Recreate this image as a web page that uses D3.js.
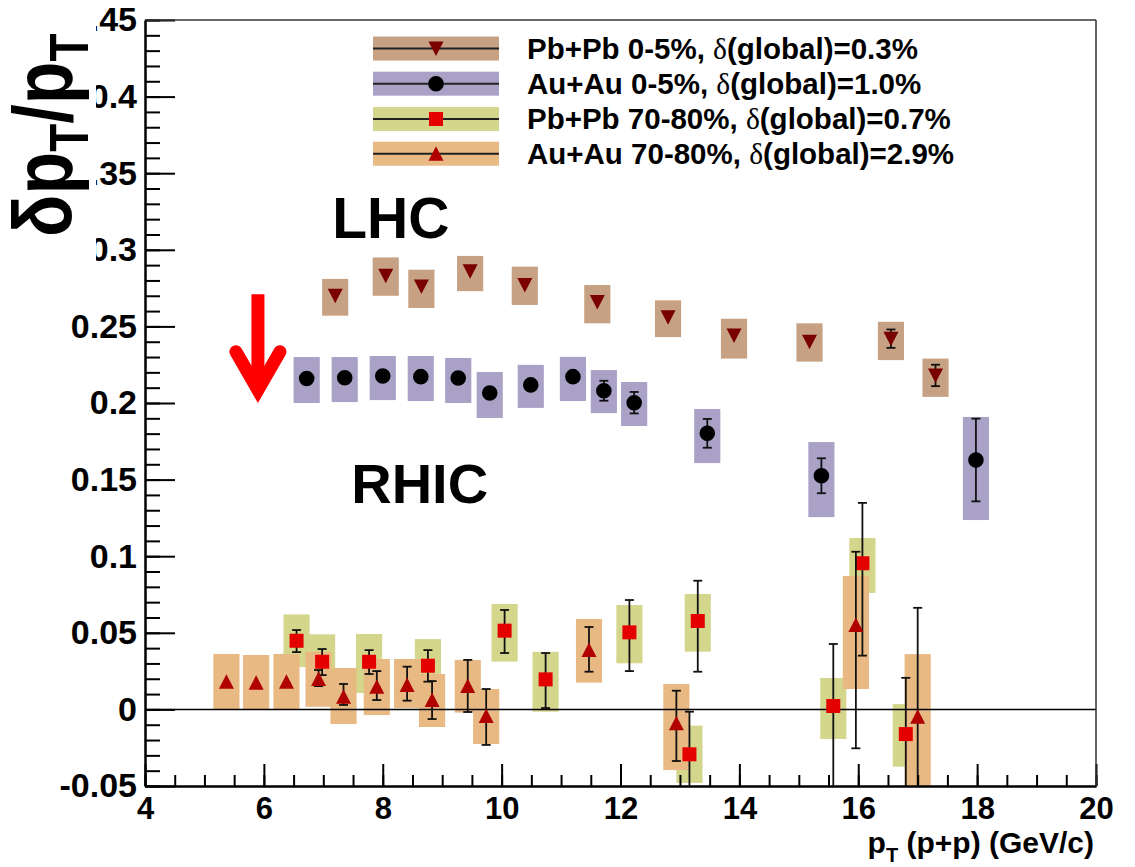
<!DOCTYPE html>
<html lang="en">
<head>
<meta charset="UTF-8">
<title>dpT/pT vs pT (p+p)</title>
<script src="https://d3js.org/d3.v7.min.js"></script>
<style>
    body { margin: 0; background: #fff; }
    text { font-family: 'Liberation Sans', Arial, Helvetica, sans-serif; font-weight: bold; fill: #000; }
    .serif { font-family: 'Liberation Serif', 'Times New Roman', serif; font-weight: normal; }
</style>
</head>
<body>
<svg id="chart" width="1135" height="867"></svg>
<script>
// ---- data ----
// Pb+Pb 0-5% (LHC)
const pbCentPt    = [7.20, 8.05, 8.65, 9.47, 10.39, 11.61, 12.80, 13.91, 15.18, 16.55, 17.30];
const pbCentVal   = [0.270, 0.283, 0.276, 0.286, 0.277, 0.266, 0.256, 0.244, 0.240, 0.242, 0.218];
const pbCentStUp  = [0.001, 0.001, 0.001, 0.001, 0.001, 0.001, 0.001, 0.002, 0.002, 0.006, 0.007];
const pbCentStDn  = [0.001, 0.001, 0.001, 0.001, 0.001, 0.001, 0.001, 0.002, 0.002, 0.006, 0.007];
const pbCentSyUp  = [0.011, 0.012, 0.011, 0.010, 0.012, 0.011, 0.011, 0.011, 0.012, 0.011, 0.011];
const pbCentSyDn  = [0.013, 0.013, 0.014, 0.013, 0.013, 0.014, 0.013, 0.015, 0.013, 0.014, 0.014];

// Au+Au 0-5% (RHIC)
const auCentPt    = [6.72, 7.36, 8.00, 8.64, 9.27, 9.80, 10.49, 11.20, 11.72, 12.23, 13.46, 15.38, 17.98];
const auCentVal   = [0.2160, 0.2165, 0.2176, 0.2172, 0.2163, 0.2065, 0.2118, 0.2172, 0.2080, 0.2002, 0.1802, 0.1525, 0.1628];
const auCentStUp  = [0.001, 0.001, 0.001, 0.001, 0.001, 0.001, 0.001, 0.001, 0.0065, 0.007, 0.0094, 0.0114, 0.027];
const auCentStDn  = [0.001, 0.001, 0.001, 0.001, 0.001, 0.001, 0.001, 0.001, 0.0065, 0.007, 0.0094, 0.0114, 0.027];
const auCentSyUp  = [0.0140, 0.0135, 0.0131, 0.0135, 0.0131, 0.0137, 0.0131, 0.0129, 0.0135, 0.0135, 0.0159, 0.0220, 0.0281];
const auCentSyDn  = [0.0160, 0.0159, 0.0157, 0.0159, 0.0163, 0.0163, 0.0150, 0.0159, 0.0146, 0.0152, 0.0194, 0.0270, 0.0392];

// Pb+Pb 70-80%
const pbPeriPt    = [6.55, 6.98, 7.77, 8.76, 10.05, 10.74, 12.15, 13.16, 13.30, 15.58, 16.07, 16.80];
const pbPeriVal   = [0.0448, 0.0311, 0.0311, 0.0285, 0.0514, 0.0196, 0.0503, -0.0293, 0.0577, 0.0022, 0.0954, -0.0161];
const pbPeriStUp  = [0.0070, 0.0083, 0.0076, 0.0102, 0.0135, 0.0172, 0.0211, 0.0278, 0.0263, 0.0405, 0.0394, 0.0367];
const pbPeriStDn  = [0.0074, 0.0087, 0.0080, 0.0104, 0.0146, 0.0187, 0.0253, 0.0278, 0.0331, 0.0600, 0.0603, 0.0367];
const pbPeriSyUp  = [0.0172, 0.0179, 0.0181, 0.0174, 0.0174, 0.0180, 0.0178, 0.0187, 0.0176, 0.0183, 0.0165, 0.0196];
const pbPeriSyDn  = [0.0172, 0.0179, 0.0204, 0.0174, 0.0202, 0.0211, 0.0202, 0.0187, 0.0200, 0.0215, 0.0194, 0.0213];

// Au+Au 70-80%
const auPeriPt    = [5.37, 5.87, 6.38, 6.92, 7.34, 7.90, 8.41, 8.83, 9.43, 9.74, 11.47, 12.94, 15.96, 17.00];
const auPeriVal   = [0.0181, 0.0174, 0.0181, 0.0198, 0.0083, 0.0148, 0.0159, 0.0061, 0.0153, -0.0043, 0.0388, -0.0091, 0.0551, -0.0048];
const auPeriStUp  = [0.002, 0.002, 0.002, 0.0059, 0.0083, 0.0102, 0.0120, 0.0124, 0.0170, 0.0176, 0.0150, 0.0213, 0.0478, 0.0711];
const auPeriStDn  = [0.002, 0.002, 0.002, 0.0046, 0.0054, 0.0087, 0.0102, 0.0124, 0.0170, 0.0189, 0.0142, 0.0246, 0.0805, 0.0800];
const auPeriSyUp  = [0.0181, 0.0181, 0.0181, 0.0178, 0.0187, 0.0181, 0.0170, 0.0170, 0.0170, 0.0176, 0.0202, 0.0257, 0.0320, 0.0409];
const auPeriSyDn  = [0.0180, 0.0172, 0.0180, 0.0181, 0.0178, 0.0185, 0.0150, 0.0176, 0.0174, 0.0183, 0.0213, 0.0305, 0.0418, 0.0450];

const legendNames  = ["Pb+Pb 0-5%, ", "Au+Au 0-5%, ", "Pb+Pb 70-80%, ", "Au+Au 70-80%, "];
const legendGlobal = ["(global)=0.3%", "(global)=1.0%", "(global)=0.7%", "(global)=2.9%"];

const xTickValues = [4, 6, 8, 10, 12, 14, 16, 18, 20];
const yTickValues = [-0.05, 0, 0.05, 0.1, 0.15, 0.2, 0.25, 0.3, 0.35, 0.4, 0.45];
const yTickLabels = ["-0.05", "0", "0.05", "0.1", "0.15", "0.2", "0.25", "0.3", "0.35", "0.4", "0.45"];

// ---- build series ----
function makeSeries(pt, val, stUp, stDn, syUp, syDn, box, marker, mColor) {
    return {
        box: box, marker: marker, color: mColor,
        points: pt.map((p, i) => ({pt: p, v: val[i], stUp: stUp[i], stDn: stDn[i], syUp: syUp[i], syDn: syDn[i]}))
    };
}
const series = [
    makeSeries(pbCentPt, pbCentVal, pbCentStUp, pbCentStDn, pbCentSyUp, pbCentSyDn, "#c6a183", "down", "#7a0000"),
    makeSeries(auCentPt, auCentVal, auCentStUp, auCentStDn, auCentSyUp, auCentSyDn, "#aaa1c7", "circle", "#000000"),
    makeSeries(pbPeriPt, pbPeriVal, pbPeriStUp, pbPeriStDn, pbPeriSyUp, pbPeriSyDn, "#d4d68c", "square", "#e50000"),
    makeSeries(auPeriPt, auPeriVal, auPeriStUp, auPeriStDn, auPeriSyUp, auPeriSyDn, "#e8b982", "up", "#b00000")
];

// ---- layout ----
let margin = {top: 20, right: 39, bottom: 81, left: 145},
    W = 1135, H = 867,
    width = W - margin.left - margin.right,
    height = H - margin.top - margin.bottom;

let svg = d3.select("#chart");

let x = d3.scaleLinear().domain([4, 20]).range([margin.left, margin.left + width]);
let y = d3.scaleLinear().domain([-0.05, 0.45]).range([margin.top + height, margin.top]);

svg.append("defs").append("clipPath").attr("id", "plotClip")
    .append("rect")
    .attr("x", margin.left).attr("y", margin.top)
    .attr("width", width).attr("height", height);

let plot = svg.append("g").attr("clip-path", "url(#plotClip)");

const boxHalf = 0.22;   // half width of systematic boxes in GeV/c

// systematic boxes for all series first
series.forEach(s => {
    plot.append("g").selectAll("rect")
        .data(s.points)
        .join("rect")
        .attr("x", d => x(d.pt - boxHalf))
        .attr("width", d => x(d.pt + boxHalf) - x(d.pt - boxHalf))
        .attr("y", d => y(d.v + d.syUp))
        .attr("height", d => y(d.v - d.syDn) - y(d.v + d.syUp))
        .attr("fill", s.box);
});

// zero line
plot.append("line")
    .attr("x1", x(4)).attr("x2", x(20))
    .attr("y1", y(0)).attr("y2", y(0))
    .attr("stroke", "#000").attr("stroke-width", 1.5);

function markerPath(type) {
    if (type === "down") return "M-7.5,-7L7.5,-7L0,7.5Z";
    if (type === "up") return "M-7.5,7L7.5,7L0,-7.5Z";
    if (type === "square") return "M-7,-7H7V7H-7Z";
    return d3.symbol(d3.symbolCircle, Math.PI * 7.8 * 7.8)();
}

// stat error bars + markers
series.forEach(s => {
    let g = plot.append("g");
    let bars = s.points.filter(d => (y(d.v) - y(d.v + d.stUp)) > 8 || (y(d.v - d.stDn) - y(d.v)) > 8);
    g.selectAll("line.err")
        .data(bars)
        .join("line")
        .attr("class", "err")
        .attr("x1", d => x(d.pt)).attr("x2", d => x(d.pt))
        .attr("y1", d => y(d.v + d.stUp)).attr("y2", d => y(d.v - d.stDn))
        .attr("stroke", "#111").attr("stroke-width", 1.8);
    g.selectAll("line.capHi")
        .data(bars)
        .join("line")
        .attr("class", "capHi")
        .attr("x1", d => x(d.pt) - 4.5).attr("x2", d => x(d.pt) + 4.5)
        .attr("y1", d => y(d.v + d.stUp)).attr("y2", d => y(d.v + d.stUp))
        .attr("stroke", "#111").attr("stroke-width", 1.8);
    g.selectAll("line.capLo")
        .data(bars)
        .join("line")
        .attr("class", "capLo")
        .attr("x1", d => x(d.pt) - 4.5).attr("x2", d => x(d.pt) + 4.5)
        .attr("y1", d => y(d.v - d.stDn)).attr("y2", d => y(d.v - d.stDn))
        .attr("stroke", "#111").attr("stroke-width", 1.8);
    g.selectAll("path.mk")
        .data(s.points)
        .join("path")
        .attr("class", "mk")
        .attr("d", markerPath(s.marker))
        .attr("transform", d => "translate(" + x(d.pt) + "," + y(d.v) + ")")
        .attr("fill", s.color);
});

// ---- axes ----
let yMajor = d3.axisLeft(y).tickValues(yTickValues)
    .tickFormat((d, i) => yTickLabels[i])
    .tickSizeInner(-30).tickSizeOuter(0).tickPadding(8);
let yMinor = d3.axisLeft(y).tickValues(d3.range(-0.05, 0.4501, 0.01))
    .tickFormat("").tickSizeInner(-15).tickSizeOuter(0);
let xMajor = d3.axisBottom(x).tickValues(xTickValues)
    .tickFormat(d3.format("d"))
    .tickSizeInner(-22).tickSizeOuter(0).tickPadding(11);
let xMinor = d3.axisBottom(x).tickValues(d3.range(4, 20.01, 0.5))
    .tickFormat("").tickSizeInner(-11).tickSizeOuter(0);

function styleAxis(g, fs) {
    g.select(".domain").attr("stroke", "#000").attr("stroke-width", 2);
    g.selectAll(".tick line").attr("stroke", "#000").attr("stroke-width", 2);
    g.selectAll(".tick text")
        .attr("fill", "#000")
        .style("font-family", "'Liberation Sans', Arial, sans-serif")
        .style("font-weight", "bold")
        .style("font-size", fs + "px");
}

svg.append("g").attr("transform", "translate(" + margin.left + ",0)").call(yMinor).call(styleAxis, 34);
svg.append("g").attr("transform", "translate(" + margin.left + ",0)").call(yMajor).call(styleAxis, 34);
svg.append("g").attr("transform", "translate(0," + (margin.top + height) + ")").call(xMinor).call(styleAxis, 31);
let xAx = svg.append("g").attr("transform", "translate(0," + (margin.top + height) + ")").call(xMajor).call(styleAxis, 31);
xAx.selectAll(".tick text").attr("dy", "0.71em");

// frame top/right
svg.append("line").attr("x1", x(4)).attr("x2", x(20)).attr("y1", y(0.45)).attr("y2", y(0.45))
    .attr("stroke", "#333").attr("stroke-width", 1.5);
svg.append("line").attr("x1", x(20)).attr("x2", x(20)).attr("y1", y(0.45)).attr("y2", y(-0.05))
    .attr("stroke", "#333").attr("stroke-width", 1.5);

// ---- y axis title (sits on a white patch that hides part of the top labels) ----
svg.append("rect").attr("x", 0).attr("y", 0).attr("width", 96).attr("height", 268).attr("fill", "#fff");
let yt = svg.append("text")
    .attr("transform", "translate(72,237) rotate(-90) scale(1,1.2)")
    .style("font-size", "70px");
yt.append("tspan").text("δp");
yt.append("tspan").attr("dy", 13).style("font-size", "46px").text("T");
yt.append("tspan").attr("dy", -13).text("/p");
yt.append("tspan").attr("dy", 13).style("font-size", "46px").text("T");

// ---- x axis title ----
let xt = svg.append("text")
    .attr("x", x(20) - 2).attr("y", 853)
    .attr("text-anchor", "end")
    .style("font-size", "30px");
xt.append("tspan").text("p");
xt.append("tspan").attr("dy", 9).style("font-size", "20px").text("T");
xt.append("tspan").attr("dy", -9).text(" (p+p) (GeV/c)");

// ---- legend ----
let legend = svg.append("g");
const legRowY = [48.5, 83.7, 119, 153.7];
series.forEach((s, i) => {
    let row = legend.append("g").attr("transform", "translate(0," + legRowY[i] + ")");
    row.append("rect").attr("x", 373).attr("y", -12).attr("width", 126).attr("height", 24).attr("fill", s.box);
    row.append("line").attr("x1", 373).attr("x2", 499).attr("y1", 0).attr("y2", 0)
        .attr("stroke", "#222").attr("stroke-width", 2);
    row.append("path").attr("d", markerPath(s.marker)).attr("transform", "translate(436,0)").attr("fill", s.color);
    let t = row.append("text").attr("x", 527).attr("y", 10).style("font-size", "29.5px");
    t.append("tspan").text(legendNames[i]);
    t.append("tspan").attr("class", "serif").text("δ");
    t.append("tspan").text(legendGlobal[i]);
});

// ---- annotations ----
svg.append("text").attr("x", x(7.15)).attr("y", y(0.308)).style("font-size", "57px").text("LHC");
svg.append("text").attr("x", x(7.47)).attr("y", y(0.135)).style("font-size", "56px").text("RHIC");

let arrow = svg.append("g").attr("stroke", "#ff0000").attr("stroke-width", 13).attr("fill", "none")
    .attr("stroke-linecap", "round");
arrow.append("line").attr("x1", x(5.9)).attr("x2", x(5.9)).attr("y1", y(0.271)).attr("y2", y(0.212))
    .attr("stroke-linecap", "butt");
arrow.append("polyline")
    .attr("points", [[x(5.53), y(0.2335)], [x(5.9), y(0.2085)], [x(6.27), y(0.2335)]].map(p => p.join(",")).join(" "))
    .attr("stroke-linejoin", "miter");
</script>
</body>
</html>
